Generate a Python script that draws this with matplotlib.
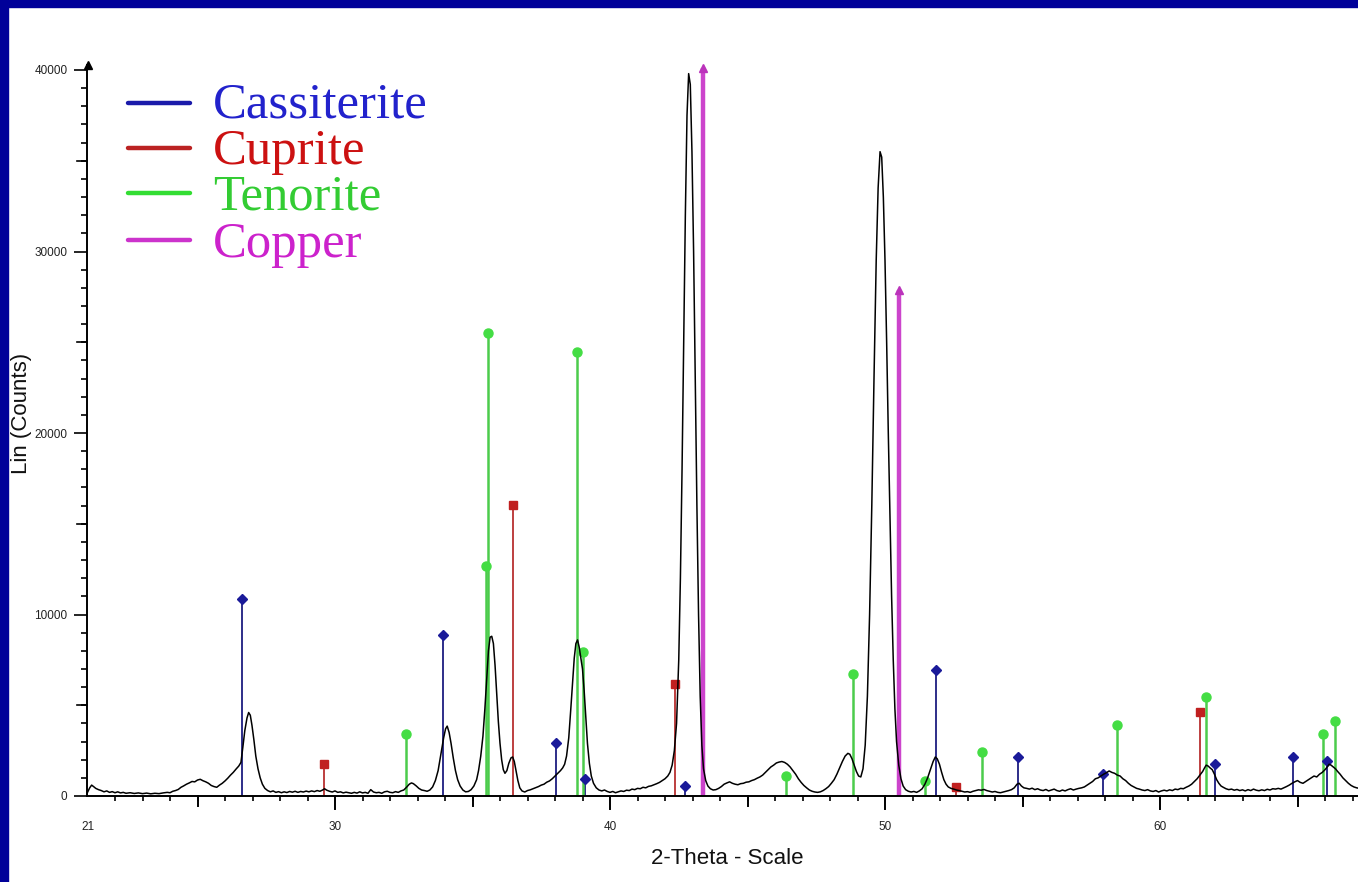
import matplotlib
matplotlib.use("Agg")
import matplotlib.pyplot as plt
from matplotlib.patches import Rectangle
from matplotlib.transforms import blended_transform_factory

# ---- measured diffractogram (2-theta in degrees, counts) ----
two_theta = [
    21.0, 21.08, 21.15, 21.22, 21.3, 21.4, 21.5, 21.6, 21.7, 21.8, 21.9, 22.0, 22.1, 22.2,
    22.3, 22.4, 22.55, 22.7, 22.85, 23.0, 23.15, 23.3, 23.45, 23.6, 23.75, 23.9, 24.0, 24.1,
    24.2, 24.3, 24.4, 24.5, 24.6, 24.7, 24.8, 24.9, 25.0, 25.1, 25.2, 25.3, 25.4, 25.5,
    25.6, 25.7, 25.8, 25.9, 26.0, 26.1, 26.2, 26.3, 26.4, 26.5, 26.58, 26.65, 26.72, 26.8,
    26.86, 26.92, 26.98, 27.05, 27.12, 27.2, 27.28, 27.36, 27.45, 27.55, 27.65, 27.75, 27.85,
    27.95, 28.05, 28.15, 28.25, 28.35, 28.45, 28.55, 28.65, 28.75, 28.85, 28.95, 29.05,
    29.15, 29.25, 29.35, 29.45, 29.55, 29.62, 29.7, 29.8, 29.9, 30.0, 30.1, 30.2, 30.3,
    30.4, 30.5, 30.6, 30.7, 30.8, 30.9, 31.0, 31.1, 31.2, 31.3, 31.4, 31.5, 31.6, 31.7,
    31.8, 31.9, 32.0, 32.1, 32.2, 32.3, 32.4, 32.5, 32.6, 32.7, 32.78, 32.85, 32.95, 33.05,
    33.15, 33.25, 33.35, 33.45, 33.55, 33.65, 33.75, 33.85, 33.95, 34.02, 34.08, 34.15,
    34.22, 34.3, 34.38, 34.46, 34.55, 34.65, 34.75, 34.85, 34.95, 35.05, 35.15, 35.22, 35.3,
    35.38, 35.45, 35.52, 35.58, 35.64, 35.7, 35.76, 35.82, 35.88, 35.94, 36.0, 36.06, 36.12,
    36.18, 36.25, 36.32, 36.4, 36.46, 36.52, 36.58, 36.65, 36.72, 36.8, 36.9, 37.0, 37.1,
    37.2, 37.3, 37.4, 37.5, 37.6, 37.7, 37.8, 37.9, 38.0, 38.1, 38.2, 38.28, 38.35, 38.42,
    38.5, 38.57, 38.64, 38.7, 38.76, 38.82, 38.88, 38.94, 39.0, 39.06, 39.12, 39.18, 39.25,
    39.32, 39.4, 39.5, 39.6, 39.7, 39.8, 39.9, 40.0, 40.1, 40.2, 40.3, 40.4, 40.5, 40.6,
    40.7, 40.8, 40.9, 41.0, 41.1, 41.2, 41.3, 41.4, 41.5, 41.6, 41.7, 41.8, 41.9, 42.0,
    42.1, 42.18, 42.26, 42.34, 42.42, 42.5, 42.56, 42.62, 42.68, 42.74, 42.8, 42.86, 42.92,
    42.98, 43.04, 43.1, 43.16, 43.22, 43.28, 43.34, 43.4, 43.48, 43.56, 43.65, 43.75, 43.85,
    43.95, 44.05, 44.15, 44.25, 44.35, 44.45, 44.55, 44.65, 44.75, 44.85, 44.95, 45.05,
    45.15, 45.25, 45.35, 45.45, 45.55, 45.65, 45.75, 45.85, 45.95, 46.05, 46.15, 46.25,
    46.35, 46.45, 46.55, 46.65, 46.75, 46.85, 46.95, 47.05, 47.15, 47.25, 47.35, 47.45,
    47.55, 47.65, 47.75, 47.85, 47.95, 48.05, 48.15, 48.25, 48.35, 48.45, 48.55, 48.65,
    48.72, 48.8, 48.88, 48.96, 49.04, 49.12, 49.2, 49.28, 49.36, 49.44, 49.52, 49.6, 49.68,
    49.75, 49.82, 49.88, 49.94, 50.0, 50.06, 50.12, 50.18, 50.24, 50.3, 50.36, 50.42, 50.5,
    50.58, 50.66, 50.75, 50.85, 50.95, 51.05, 51.15, 51.25, 51.35, 51.45, 51.55, 51.65,
    51.75, 51.83, 51.9, 51.98, 52.06, 52.14, 52.22, 52.3, 52.4, 52.5, 52.6, 52.7, 52.8,
    52.9, 53.0, 53.1, 53.2, 53.3, 53.4, 53.5, 53.6, 53.7, 53.8, 53.9, 54.0, 54.1, 54.2,
    54.3, 54.4, 54.5, 54.6, 54.7, 54.8, 54.88, 54.96, 55.05, 55.15, 55.25, 55.35, 55.45,
    55.55, 55.65, 55.75, 55.85, 55.95, 56.05, 56.15, 56.25, 56.35, 56.45, 56.55, 56.65,
    56.75, 56.85, 56.95, 57.05, 57.15, 57.25, 57.35, 57.45, 57.55, 57.65, 57.75, 57.85,
    57.95, 58.05, 58.15, 58.25, 58.35, 58.45, 58.55, 58.65, 58.75, 58.85, 58.95, 59.05,
    59.15, 59.25, 59.35, 59.45, 59.55, 59.65, 59.75, 59.85, 59.95, 60.05, 60.15, 60.25,
    60.35, 60.45, 60.55, 60.65, 60.75, 60.85, 60.95, 61.05, 61.15, 61.25, 61.35, 61.45,
    61.55, 61.62, 61.68, 61.75, 61.82, 61.9, 61.98, 62.06, 62.14, 62.22, 62.3, 62.4, 62.5,
    62.6, 62.7, 62.8, 62.9, 63.0, 63.1, 63.2, 63.3, 63.4, 63.5, 63.6, 63.7, 63.8, 63.9,
    64.0, 64.1, 64.2, 64.3, 64.4, 64.5, 64.6, 64.7, 64.8, 64.9, 65.0, 65.1, 65.2, 65.3,
    65.4, 65.5, 65.6, 65.7, 65.8, 65.9, 66.0, 66.08, 66.15, 66.22, 66.3, 66.38, 66.46,
    66.55, 66.65, 66.75, 66.85, 66.95, 67.05, 67.15, 67.25,
]
counts = [
    200, 450, 600, 520, 420, 350, 300, 230, 280, 200, 240, 180, 230, 170,
    200, 150, 180, 140, 170, 130, 160, 120, 150, 130, 170, 200, 180, 260,
    300, 360, 480, 560, 650, 720, 800, 780, 880, 920, 840, 780, 700, 580,
    520, 480, 600, 700, 830, 980, 1150, 1300, 1480, 1650, 1850, 2700, 3600, 4300,
    4600, 4450, 3900, 3100, 2200, 1500, 1000, 650, 420, 300, 230, 280, 200,
    240, 180, 230, 190, 250, 210, 260, 200, 250, 220, 270, 230,
    280, 240, 300, 260, 330, 400, 320, 260, 220, 280, 200, 230, 170,
    210, 180, 150, 200, 160, 230, 170, 200, 150, 350, 220, 180, 200, 150,
    230, 260, 200, 180, 240, 200, 280, 330, 480, 650, 720, 680, 560, 420,
    330, 300, 260, 330, 500, 850, 1400, 2300, 3200, 3700, 3850, 3500,
    2900, 2100, 1400, 900, 550, 330, 230, 250, 350, 550, 900, 1400, 2200,
    3300, 4800, 6500, 8000, 8750, 8800, 8400, 7200, 5600, 4100, 2900, 2000, 1450,
    1250, 1400, 1800, 2100, 2150, 1900, 1400, 850, 450, 280, 220, 300, 340,
    400, 460, 520, 600, 650, 760, 830, 950, 1100, 1250, 1400, 1550, 1750, 2200,
    3200, 4700, 6300, 7600, 8400, 8600, 8200, 7600, 7000, 5800, 4300, 2900, 1800,
    1100, 700, 450, 330, 280, 330, 250, 200, 250, 180, 230, 280, 250, 320,
    300, 380, 350, 420, 400, 480, 450, 530, 560, 620, 680, 750, 850, 950,
    1100, 1300, 1700, 2500, 4000, 7500, 12000, 18000, 25000, 32000, 37500, 39800, 39200,
    35500, 30000, 23000, 16000, 10000, 5500, 2800, 1500, 850, 550, 400, 330, 350,
    420, 520, 650, 720, 780, 700, 650, 620, 680, 700, 760, 780,
    850, 900, 980, 1050, 1150, 1300, 1450, 1600, 1700, 1820, 1870, 1900,
    1850, 1750, 1600, 1400, 1200, 950, 750, 580, 450, 330, 260, 220,
    200, 230, 300, 400, 520, 700, 900, 1200, 1550, 1900, 2200, 2350,
    2300, 2050, 1700, 1350, 1100, 1050, 1500, 2800, 5500, 10000, 16000, 23000, 29500,
    33500, 35500, 35200, 33000, 29500, 25000, 20000, 15500, 11000, 7500, 4800, 3000, 1700,
    950, 550, 350, 260, 220, 250, 200, 280, 400, 650, 1000, 1450,
    1900, 2150, 2050, 1750, 1300, 900, 650, 500, 420, 380, 330, 300, 260,
    220, 240, 200, 260, 300, 340, 320, 360, 300, 260, 220, 250, 200, 180,
    220, 260, 300, 350, 450, 650, 700, 550, 450, 420, 380, 430, 350,
    400, 330, 300, 360, 280, 330, 380, 300, 260, 330, 280, 350,
    400, 330, 380, 420, 450, 500, 600, 700, 800, 950, 1000, 1100,
    1200, 1280, 1380, 1300, 1250, 1150, 1100, 950, 850, 700, 580, 500,
    420, 380, 330, 300, 350, 280, 250, 300, 220, 280, 320, 280,
    340, 300, 380, 350, 420, 400, 480, 550, 650, 800, 950, 1150,
    1350, 1550, 1700, 1650, 1550, 1450, 1200, 900, 700, 550, 480, 400, 350,
    380, 320, 360, 300, 340, 280, 350, 300, 380, 320, 290, 340, 300, 370,
    330, 400, 380, 420, 380, 450, 520, 600, 700, 780, 850, 750, 700, 800,
    900, 1000, 1100, 1050, 1200, 1300, 1450, 1600, 1750, 1700, 1600, 1500, 1350,
    1200, 1000, 850, 700, 580, 500, 450, 420,
]

# ---- reference phase patterns (stick positions and intensities) ----
phases = ["Cassiterite", "Cuprite", "Tenorite", "Copper"]

cassiterite_pos = [26.62, 33.93, 38.04, 39.10, 42.73, 51.85, 54.84, 57.93, 62.00, 64.84, 66.08]
cassiterite_int = [10850, 8870, 2920, 940, 550, 6940, 2150, 1200, 1760, 2150, 1930]

cuprite_pos = [29.60, 36.47, 42.36, 52.58, 61.45]
cuprite_int = [1760, 16030, 6170, 500, 4630]

tenorite_pos = [32.58, 35.50, 35.58, 38.80, 39.02, 46.40, 48.83, 51.45, 53.53, 58.44,
                61.67, 65.93, 66.36]
tenorite_int = [3420, 12670, 25500, 24460, 7930, 1100, 6720, 830, 2420, 3900,
                5450, 3400, 4130]

copper_pos = [43.38, 50.51]
copper_int = [40100, 27880]

x_ticks = [21, 30, 40, 50, 60]
y_ticks = [0, 10000, 20000, 30000, 40000]

W, H = 1358, 882
fig = plt.figure(figsize=(W / 100, H / 100), dpi=100, facecolor="white")

# dark blue frame on the left and top edges
fig.patches.append(Rectangle((0, 0), 8 / W, 1, transform=fig.transFigure,
                             color="#000099", zorder=10))
fig.patches.append(Rectangle((0, 1 - 7 / H), 1, 7 / H, transform=fig.transFigure,
                             color="#000099", zorder=10))

x0_px, y0_px = 87.5, 796.0
px_per_deg = 27.5
px_per_count = 181.5 / 10000
ymax = 40300
ax_h_px = ymax * px_per_count
ax = fig.add_axes([x0_px / W, (H - y0_px) / H, (W - x0_px) / W, ax_h_px / H])
ax.set_xlim(21, 21 + (W - x0_px) / px_per_deg)
ax.set_ylim(0, ymax)

for s in ("top", "right"):
    ax.spines[s].set_visible(False)
for s in ("left", "bottom"):
    ax.spines[s].set_linewidth(1.4)
    ax.spines[s].set_color("black")

# stick patterns
stick_styles = {
    "Cassiterite": dict(pos=cassiterite_pos, val=cassiterite_int, color="#1c1c80",
                        mcolor="#1a1a99", marker="D", ms=5.5, lw=1.3),
    "Cuprite": dict(pos=cuprite_pos, val=cuprite_int, color="#b83030",
                    mcolor="#c02020", marker="s", ms=5.5, lw=1.3),
    "Tenorite": dict(pos=tenorite_pos, val=tenorite_int, color="#4ccc4c",
                     mcolor="#44dd44", marker="o", ms=6.5, lw=1.8),
    "Copper": dict(pos=copper_pos, val=copper_int, color="#cc44cc",
                   mcolor="#bb33bb", marker="^", ms=6, lw=3.2),
}
for name in phases:
    st = stick_styles[name]
    ax.vlines(st["pos"], 0, st["val"], colors=st["color"], lw=st["lw"], zorder=2,
              clip_on=False)
    ax.plot(st["pos"], st["val"], ls="none", marker=st["marker"], ms=st["ms"],
            color=st["mcolor"], mec=st["mcolor"], zorder=3, clip_on=False)

# measured pattern
ax.plot(two_theta, counts, color="black", lw=1.1, zorder=4)

# axis ticks
tick_font = dict(family="Liberation Sans", size=8.5, color="#222222")
ax.set_xticks(x_ticks)
ax.set_xticklabels([str(t) for t in x_ticks], **tick_font)
ax.set_xticks(range(21, 68), minor=True)
ax.tick_params(axis="x", which="major", direction="out", length=0, pad=18)
ax.tick_params(axis="x", which="minor", direction="out", length=3.8, width=1.2)

ax.set_yticks(y_ticks)
ax.set_yticklabels([str(t) for t in y_ticks], **tick_font)
ax.set_yticks(range(0, 40001, 1000), minor=True)
ax.tick_params(axis="y", which="major", direction="out", length=9.5, width=1.2, pad=5)
ax.tick_params(axis="y", which="minor", direction="out", length=4.3, width=1.2)

# longer ticks every 5 degrees / 10 degrees on the x axis
tx = blended_transform_factory(ax.transData, ax.transAxes)
for d in range(25, 68, 5):
    length = 13 if d % 10 == 0 else 10
    ax.plot([d, d], [0, -length / ax_h_px], color="black", lw=1.4,
            transform=tx, clip_on=False)

# medium ticks every 5000 counts on the y axis
ty = blended_transform_factory(ax.transAxes, ax.transData)
ax_w_px = W - x0_px
for v in range(5000, 40000, 10000):
    ax.plot([0, -10 / ax_w_px], [v, v], color="black", lw=1.2,
            transform=ty, clip_on=False)

# arrow head on the intensity axis
ax.plot([21.03], [ymax], marker="^", ms=6, color="black", clip_on=False, zorder=5)

# axis titles
fig.text(22 / W, 1 - 413 / H, "Lin (Counts)", rotation=90, ha="center", va="center",
         family="Liberation Sans", size=16, color="#111111")
fig.text(727 / W, 1 - 859 / H, "2-Theta - Scale", ha="center", va="center",
         family="Liberation Sans", size=16, color="#111111")

# phase key
key_line_colors = ["#1a1aaa", "#bb2222", "#33dd33", "#cc33cc"]
key_text_colors = ["#2222cc", "#cc1111", "#33cc33", "#cc22cc"]
line_y = [103, 148, 193, 240]
text_base = [117, 164, 210, 257]
for name, lc, tc, ly, tb in zip(phases, key_line_colors, key_text_colors, line_y, text_base):
    fig.add_artist(plt.Line2D([128 / W, 190 / W], [1 - ly / H, 1 - ly / H],
                              transform=fig.transFigure, color=lc, lw=3.2,
                              solid_capstyle="round"))
    fig.text(213 / W, 1 - tb / H, name, ha="left", va="baseline",
             family="Liberation Serif", size=36.5, color=tc)

fig.savefig("out.png", dpi=100, facecolor="white")
